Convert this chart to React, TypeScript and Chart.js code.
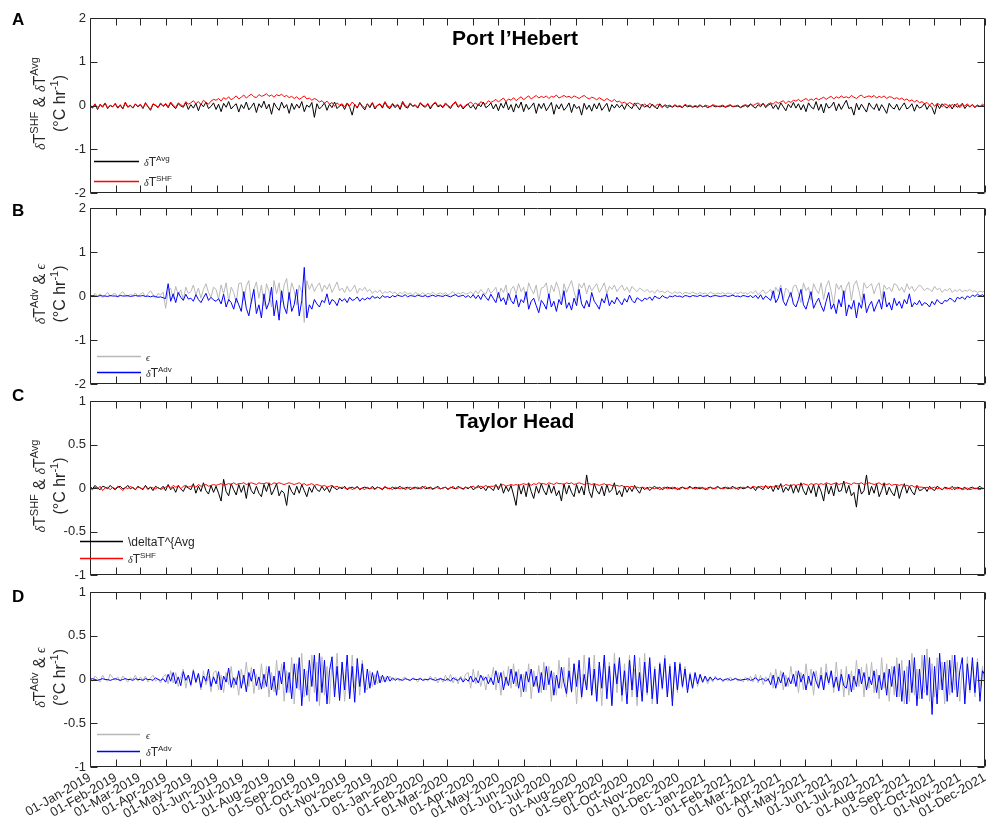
import React, { useEffect, useRef } from "react";
import { Chart, registerables } from "chart.js";
Chart.register(...registerables);

// ---------- data ----------
const STEP_DAYS = 3; // one value every 3 days, starting 01-Jan-2019 (10 values per row ≈ one month)
const tickLabels = [
  "01-Jan-2019","01-Feb-2019","01-Mar-2019","01-Apr-2019","01-May-2019","01-Jun-2019","01-Jul-2019","01-Aug-2019","01-Sep-2019","01-Oct-2019","01-Nov-2019","01-Dec-2019",
  "01-Jan-2020","01-Feb-2020","01-Mar-2020","01-Apr-2020","01-May-2020","01-Jun-2020","01-Jul-2020","01-Aug-2020","01-Sep-2020","01-Oct-2020","01-Nov-2020","01-Dec-2020",
  "01-Jan-2021","01-Feb-2021","01-Mar-2021","01-Apr-2021","01-May-2021","01-Jun-2021","01-Jul-2021","01-Aug-2021","01-Sep-2021","01-Oct-2021","01-Nov-2021","01-Dec-2021",
];

// values in hundredths of °C/hr
const shfA = [
  2,-5,4,-8,3,-2,6,-6,1,-3, 5,-4,2,-7,8,-3,1,-5,4,-2, 3,-6,7,-2,-9,4,1,-4,6,-1, 5,-3,8,1,-4,6,2,-2,9,3,
  6,11,4,9,2,12,7,3,10,14, 12,16,10,18,14,20,13,17,22,15, 19,24,17,22,26,20,18,25,21,23, 27,21,24,19,25,22,26,20,23,18,
  21,16,20,14,18,22,15,17,12,16, 13,8,11,5,10,3,7,-2,6,1, 4,-3,6,-1,8,2,-4,5,0,-6, 3,-2,7,-5,1,4,-3,9,-1,-4,
  5,-2,3,-6,10,0,-3,6,-1,2, -4,7,1,-2,5,-5,3,8,-1,2, -3,6,0,-4,4,9,-2,3,-5,1, 4,8,2,6,-1,9,5,3,11,7,
  10,14,8,13,17,9,15,12,18,11, 16,20,13,18,22,15,19,23,17,21, 18,22,16,21,19,24,17,20,23,19, 21,17,22,19,16,20,23,18,15,19,
  17,13,18,14,11,16,12,9,14,8, 10,5,8,2,7,4,-1,6,3,-2, 4,-3,5,1,-4,3,0,-5,2,-1, 1,-3,2,-2,0,-4,3,-1,1,-3,
  0,-2,2,-4,1,-1,-3,2,0,-2, -1,1,-3,0,2,-2,-1,1,-4,0, 2,-1,4,0,3,6,1,5,-2,4, 6,3,9,5,8,11,4,10,7,12,
  10,14,9,13,16,11,15,12,17,13, 16,19,14,18,21,15,20,17,22,18, 20,17,23,19,16,21,24,18,20,22, 19,23,17,21,18,22,16,20,19,15,
  18,14,17,12,15,10,13,8,12,6, 9,4,7,1,6,-2,5,2,-3,4, 1,-4,3,-2,5,-5,2,-1,4,-3, 2,-3,1,-2,3,-1,
];
const avgA = [
  -1,-6,3,-9,2,-4,5,-7,0,-3, 4,-6,1,-8,6,-4,0,-6,3,-3, 2,-7,5,-3,-11,3,0,-5,4,-2, 3,-5,6,-2,-7,4,-1,-4,7,-9,
  2,-6,5,-12,4,-3,8,-7,-2,6, -9,3,-14,5,-4,9,-8,-1,4,-15, 2,-7,8,-10,-3,6,-16,4,-5,10, -8,3,-20,6,-4,-11,8,-6,2,-18,
  5,-9,3,-6,9,-14,1,-4,7,-27, 4,-8,-2,6,-11,3,-5,8,-7,-1, 2,-9,5,-4,-22,3,-6,7,-3,-10, 4,-5,6,-8,0,3,-6,8,-4,-7,
  3,-5,1,-9,7,-3,-6,4,-2,0, -6,5,-1,-4,3,-8,2,6,-3,0, -5,4,-2,-7,3,7,-4,1,-8,-1, 3,-6,1,-9,4,-3,8,-5,-1,6,
  -8,3,-12,5,-6,9,-10,2,-15,4, -6,8,-14,3,-9,-2,6,-18,4,-7, 5,-12,-3,7,-20,2,-8,4,-11,-4, 6,-16,3,-7,-2,-22,5,-9,1,-13,
  4,-8,6,-11,-3,5,-14,2,-6,3, -5,2,-9,4,-3,-7,6,-2,-10,3, -4,1,-6,3,-2,-8,4,-3,0,-5, -1,-4,0,-3,-2,-5,1,-3,-1,-4,
  -2,-4,0,-3,-1,-5,-2,0,-3,-2, -3,-1,-4,-2,0,-3,-2,-1,-5,-2, 0,-4,3,-2,-6,2,-3,5,-5,1, 4,-7,2,-9,6,-3,-12,3,-5,7,
  -6,4,-10,2,-14,6,-3,-8,9,-11, 3,-17,5,-6,-2,8,-12,4,-9,2, 12,-7,-4,-22,5,-10,3,-6,-15,6, -3,-9,4,-12,2,-7,-18,5,-4,-8,
  3,-11,-2,6,-8,-4,4,-13,2,-6, -3,5,-9,1,-5,-20,3,-7,4,-2, -6,2,-8,3,-4,-1,5,-7,1,-3, 2,-5,1,-3,0,-4,
];

const advB = [
  0,1,0,-1,1,0,0,-1,1,0, 0,-1,1,0,0,1,-1,0,1,0, 0,1,-1,0,-2,0,-1,-3,-2,-4, -6,28,-12,5,-15,8,-3,-10,4,-7,
  -5,-12,3,-8,-15,-4,6,-10,-3,-9, -12,-6,-18,4,-25,-8,-15,-30,-5,-20, -35,10,-28,-45,-12,15,-40,-20,-50,5, -30,-15,20,-45,-10,-55,12,-25,-40,8,
  -35,-20,15,-45,-10,65,-50,-20,-30,-8, -18,-25,-10,-15,5,-20,-8,-12,-22,-5, -12,-6,-15,-3,-10,-8,-2,-12,-5,-9, -4,-7,0,-5,-2,-6,1,-3,-1,-4,
  1,-2,2,0,-1,3,-2,1,0,-1, 2,0,-1,1,-2,0,2,-1,1,0, -1,2,0,-2,1,3,-1,0,2,-3, 1,-4,3,-6,2,-8,5,-3,-10,4,
  -6,-15,8,-12,-4,-20,6,-10,-18,3, -25,-8,-15,10,-30,-12,-5,-22,-38,-10, -18,-30,5,-25,-12,-35,-8,-20,12,-28, -15,-32,-5,-22,15,-18,-28,-10,-25,8,
  -12,-20,-30,-6,-16,5,-22,-10,-18,-3, -12,-20,-6,-14,2,-10,-16,-4,-8,-12, -5,-8,-2,-10,0,-4,-6,1,-3,-5, 0,-2,1,-1,0,-3,1,0,-2,1,
  0,-1,2,-1,0,1,-2,0,1,0, -1,0,1,-1,0,2,-1,0,-2,1, 0,-2,1,-4,2,-6,3,-8,0,-5, -10,12,-15,-5,18,-12,-22,-6,8,-18,
  -25,-8,15,-20,-30,-10,10,-28,-15,-5, -22,-35,-12,8,-30,-18,-40,-8,-25,12, -45,-20,-30,-10,-50,-15,-28,5,-38,-22, -12,-35,-20,-8,-30,10,-25,-15,-32,-5,
  -22,-12,-28,-8,-18,5,-25,-15,-20,-10, -22,-15,-18,-25,-12,-20,-8,-15,-18,-10, -12,-5,-8,-14,-3,-6,-2,-8,0,-4, 2,-1,4,0,3,-2,
];
const epsB = [
  3,-2,6,0,5,-4,2,8,-1,4, 6,-3,5,10,2,-2,4,1,7,-1, 4,8,-2,5,12,3,-5,6,2,9, -28,12,18,-6,22,2,14,-9,20,6,
  10,25,2,18,-5,15,28,8,-3,20, 15,-8,25,5,30,-12,20,8,-15,28, 30,-10,22,35,-18,15,32,-5,25,-22, 28,10,-25,35,5,30,-15,25,40,-8,
  30,12,-20,25,8,-60,35,15,28,10, 22,30,10,25,15,28,8,20,32,12, 18,8,22,10,15,25,6,18,12,20, 10,15,6,12,8,14,5,10,7,11,
  6,9,3,8,5,10,4,7,2,8, 5,3,8,2,6,4,9,3,5,7, 4,8,2,6,10,3,7,5,9,4, 6,10,3,12,5,15,8,4,18,6,
  12,20,-5,18,8,25,-10,15,22,5, 28,10,20,-8,30,15,5,25,-12,18, 20,30,-5,25,10,32,15,-15,28,8, 22,35,10,-10,28,18,30,5,25,12,
  20,28,8,18,30,5,22,15,25,10, 18,25,12,20,8,22,15,10,18,14, 10,15,8,12,6,14,9,11,7,12, 8,5,10,6,9,4,8,7,5,9,
  6,4,8,5,7,3,9,6,4,7, 5,8,4,7,6,3,8,5,9,6, 7,4,10,6,12,3,9,14,5,10, 15,-5,20,10,25,-8,18,12,-3,22,
  25,8,-15,30,12,20,-10,28,15,5, 30,-8,22,35,10,-20,28,15,25,-5, 20,32,-10,25,35,12,-15,30,18,22, 28,5,22,30,-8,25,15,20,10,28,
  25,12,20,8,28,15,22,10,18,25, 20,12,18,15,10,22,14,18,8,15, 12,18,8,14,10,16,9,13,11,15, 10,12,8,11,9,12,
];

const shfC = [
  0,-2,1,-1,2,-3,0,1,-2,1, -1,2,0,-3,1,-1,2,0,-2,1, 0,-1,2,-2,1,0,-1,1,-2,0, 1,2,0,3,1,2,-1,2,3,1,
  2,3,1,4,2,3,4,2,3,4, 3,4,5,3,4,5,4,6,4,5, 5,6,4,5,6,5,4,6,5,5, 6,5,4,6,5,6,5,4,5,6,
  5,4,5,6,4,5,3,4,5,3, 4,3,2,3,1,2,3,1,2,0, 1,0,-1,1,-2,0,1,-1,0,-2, 1,-1,0,-2,1,0,-1,2,-1,0,
  -2,1,0,-1,1,-2,0,1,-1,0, 1,-1,0,2,-1,0,-2,1,0,-1, 0,1,-1,0,2,-1,0,1,-2,1, 0,1,2,0,1,2,1,3,1,2,
  2,3,1,3,4,2,3,4,3,4, 3,4,5,4,5,3,5,4,6,5, 5,4,6,5,4,6,5,5,4,6, 5,6,4,5,6,5,4,5,5,4,
  5,4,3,4,5,3,4,3,2,3, 2,3,1,2,1,2,0,1,0,1, 0,-1,1,0,-1,1,-2,0,1,-1, 0,1,-1,0,-2,1,0,-1,1,0,
  -1,0,1,-1,0,-2,1,0,-1,1, 0,-1,0,1,-1,0,1,-2,0,1, 0,1,0,2,1,0,2,1,2,1, 2,1,3,2,3,2,4,3,2,4,
  3,4,3,5,4,3,5,4,5,4, 5,4,6,5,4,5,6,4,5,5, 6,5,4,6,5,5,6,4,5,6, 5,4,5,6,4,5,4,5,3,4,
  4,3,4,2,3,2,3,1,2,1, 1,0,1,-1,0,1,-1,0,-2,0, -1,0,-2,1,-1,0,-2,-1,0,-2, -1,0,-1,-2,0,-1,
];
const avgC = [
  2,-1,3,0,-2,2,1,-1,3,0, -2,1,2,-1,0,3,-1,1,-2,2, 0,-2,3,-1,1,-3,2,0,-1,2, -3,4,-2,1,-5,3,-1,-4,2,0,
  -2,5,-6,2,-4,6,-3,-7,3,-5, 2,-6,-15,10,-4,-9,5,-2,-8,4, -5,3,-12,6,-3,-7,2,-6,-10,4, -4,6,-8,-2,5,-9,-3,-6,-20,3,
  -4,-8,2,-6,4,-3,-10,1,-5,3, -2,-4,2,-3,1,-5,2,0,-2,1, -1,2,-2,0,1,-1,2,-2,0,1, 0,-1,2,-1,1,0,-2,1,0,-1,
  1,-1,0,2,-1,0,1,-2,0,1, -1,0,2,-1,0,1,-1,0,2,-1, 0,1,-2,1,0,-1,2,0,-1,1, -1,2,-2,0,3,-1,1,-3,2,0,
  -3,4,-2,5,-6,2,-4,3,-8,-20, 4,-7,3,-10,6,-4,-12,2,-6,5, -3,-8,4,-6,2,-9,-3,-15,5,-7, 3,-5,-10,4,-6,2,-8,15,-4,-11,
  5,-3,-7,2,-9,4,-5,-2,6,-8, -3,-10,2,-5,1,-4,3,-2,-6,1, -2,1,-3,0,2,-1,1,-2,0,1, 0,-1,1,-2,0,1,-1,0,2,-1,
  1,0,-1,1,-2,0,1,-1,0,2, -1,0,1,-1,0,2,-1,0,1,-1, 0,2,-1,1,-3,2,0,-2,3,-1, 2,-4,3,-2,5,-5,1,-3,4,-6,
  3,-5,6,-3,-8,2,-6,4,-10,3, -4,-15,5,-7,2,-9,6,-4,-3,8, -6,3,-9,-5,-22,4,-7,-3,15,-8, 2,-6,5,-10,-3,6,-8,1,-5,-9,
  3,-12,-2,5,-6,2,-4,-8,3,-3, -2,1,-4,2,-1,-3,2,0,-2,1, 0,-1,2,-2,1,0,-1,1,-2,0, 1,-1,0,2,-1,0,
];

const advD = [
  0,1,0,-1,0,1,0,0,-1,0, 1,0,-1,0,1,0,0,-1,1,0, 0,-1,1,0,0,-1,2,0,-1,1, -3,6,-2,8,-5,3,-7,9,-1,5,
  -6,10,-3,7,-9,4,-2,12,-8,3, -5,9,-12,4,-3,13,-9,2,-6,10, -10,5,-14,8,-2,12,-7,3,-11,6, -8,15,-12,4,-18,10,-5,20,-15,8,
  -22,18,-10,25,-30,12,-18,22,-8,28, -25,30,-15,22,-28,10,26,-20,15,-24, 20,-12,28,-22,15,-26,24,-8,18,-15, 12,-10,8,-6,10,-4,5,-3,4,-2,
  2,-1,1,0,-1,1,0,-1,1,0, 0,1,-1,0,0,1,0,-1,0,1, 0,-1,1,-2,2,0,-1,2,-3,1, -2,4,-3,2,-4,5,-1,3,-5,2,
  -6,10,-4,8,-12,3,-7,12,-5,9, -10,6,-14,9,-3,12,-8,4,-15,8, -12,15,-6,10,-18,5,-10,14,-4,-16, 10,-14,18,-8,22,-20,6,-12,25,-18,
  12,-25,20,-10,28,-22,15,-30,18,-5, 25,-18,10,-28,22,-12,28,-20,8,-25, 20,-15,25,-22,12,-28,18,-10,24,-20, 15,-30,20,-12,18,-8,12,-15,6,-10,
  8,-5,6,-3,4,-2,3,-1,2,0, 1,-1,0,1,-1,0,1,0,-1,0, 0,1,-1,0,2,-1,0,1,-2,1, -6,5,-10,3,-4,8,-8,2,-5,6,
  -8,10,-3,6,-12,4,-7,9,-2,-10, 5,-12,8,-4,10,-9,3,-13,6,-7, -10,6,-14,4,-8,12,-5,8,-12,3, -6,10,-15,5,-12,8,-18,12,-8,15,
  -20,18,-25,10,-28,22,-15,25,-30,12, -22,28,-18,25,-40,15,-28,30,-12,20, -25,22,-15,28,-20,10,25,-28,18,-12, 25,-15,20,-25,10,5,
];
const epsD = [
  3,-2,4,1,-3,5,0,-2,6,2, -1,3,-2,4,1,-3,2,0,5,-2, 3,-1,4,-3,2,5,-2,1,-4,3, 6,-5,10,-4,8,-8,3,12,-10,5,
  -8,12,-4,6,-12,10,-6,4,-14,8, 10,-12,5,-15,8,-6,15,-10,3,-18, 12,-5,20,-8,14,-16,6,-12,18,-10, 15,-20,8,-14,22,-12,18,-25,10,-15,
  25,-28,18,-12,30,-20,10,-25,28,-15, 20,-30,26,-18,15,-28,22,-12,30,-22, 18,-25,12,-20,28,-10,15,-18,22,-8, -12,10,-8,6,-5,4,-3,3,-2,4,
  -1,2,0,-2,1,3,0,-1,2,1, -3,2,0,1,-2,4,-1,3,-4,2, -3,5,-2,6,-4,3,-5,4,-2,6, 8,-10,12,-5,10,-8,4,-12,6,-3,
  14,-12,8,-18,10,-6,15,-10,18,-8, 12,-20,6,-14,18,-22,10,-8,16,-15, 20,-12,15,-25,8,-18,22,-10,14,-20, 25,-15,18,-28,12,-22,28,-10,20,-18,
  28,-22,15,-30,25,-12,20,-28,30,-15, 22,-25,18,-12,28,-20,12,-30,25,-15, 30,-18,22,-28,15,-25,20,-12,28,-20, 18,-22,12,-15,20,-10,15,-12,8,-10,
  6,-8,5,-4,3,-5,2,-3,4,-1, 2,-3,1,-2,3,-1,2,-2,1,-3, 3,-2,4,-3,6,-4,5,-6,3,-2, 8,-10,12,-6,10,-12,5,-8,15,-5,
  10,-15,8,-12,18,-5,12,-18,10,-8, 14,-12,18,-6,10,-15,20,-10,12,-20, 15,-18,10,-12,22,-8,14,-20,18,-10, 20,-15,12,-22,25,-10,18,-25,15,-18,
  25,-20,22,-28,15,-25,30,-18,12,-22, 28,-15,35,-25,18,-20,25,-12,20,-28, 22,-18,28,-12,20,-25,15,-22,26,-15, 18,-20,24,-12,15,-10,
];

// ---------- helpers ----------
const FONT = 'Arial, "Liberation Sans", Helvetica, sans-serif';
const GREEK = '"Liberation Serif", "DejaVu Serif", serif';
const AXIS = "#262626";
const MON: Record<string, number> = { Jan: 0, Feb: 1, Mar: 2, Apr: 3, May: 4, Jun: 5, Jul: 6, Aug: 7, Sep: 8, Oct: 9, Nov: 10, Dec: 11 };
const T0 = Date.UTC(2019, 0, 1);
const dayOf = (lab: string) => {
  const [d, m, y] = lab.split("-");
  return (Date.UTC(+y, MON[m], +d) - T0) / 86400000;
};
const tickDays = tickLabels.map(dayOf);
const X_MAX = tickDays[tickDays.length - 1];
const toPoints = (vals: number[]) => vals.map((v, i) => ({ x: i * STEP_DAYS, y: v / 100 }));

type Seg = { t: string; k?: "sup" | "greek" };
const segFont = (s: Seg, size: number) =>
  s.k === "sup" ? `${Math.round(size * 0.68)}px ${FONT}` : s.k === "greek" ? `italic ${Math.round(size * 0.85)}px ${GREEK}` : `${size}px ${FONT}`;
function drawSegs(ctx: CanvasRenderingContext2D, segs: Seg[], x: number, y: number, size: number, align: "left" | "center") {
  ctx.textAlign = "left";
  ctx.textBaseline = "alphabetic";
  let w = 0;
  segs.forEach((s) => { ctx.font = segFont(s, size); w += ctx.measureText(s.t).width; });
  let cx = align === "center" ? x - w / 2 : x;
  segs.forEach((s) => {
    ctx.font = segFont(s, size);
    ctx.fillText(s.t, cx, s.k === "sup" ? y - size * 0.45 : y);
    cx += ctx.measureText(s.t).width;
  });
}
const dT = (sup: string): Seg[] => [{ t: "δ", k: "greek" }, { t: "T" }, { t: sup, k: "sup" }];
const unitsLine: Seg[] = [{ t: "(°C hr" }, { t: "-1", k: "sup" }, { t: ")" }];

const RED = "#ff0000", BLACK = "#000000", BLUE = "#0000ff", GRAY = "#b8b8b8";

const panels = [
  {
    key: "A", top: 0, height: 200, padTop: 18, xH: 7, yMin: -2, yMax: 2, yStep: 1, showX: false,
    title: "Port l’Hebert", letterY: 25,
    ylabel: [...dT("SHF"), { t: " & " }, ...dT("Avg")] as Seg[],
    series: [ { label: "SHF", values: shfA, color: RED }, { label: "Avg", values: avgA, color: BLACK } ],
    legend: { x0: 94, x1: 139, tx: 144, items: [ { y: 161, color: BLACK, segs: dT("Avg") }, { y: 181, color: RED, segs: dT("SHF") } ] },
  },
  {
    key: "B", top: 200, height: 190, padTop: 8, xH: 6, yMin: -2, yMax: 2, yStep: 1, showX: false,
    title: "", letterY: 216,
    ylabel: [...dT("Adv"), { t: " & " }, { t: "ϵ", k: "greek" }] as Seg[],
    series: [ { label: "Adv", values: advB, color: BLUE }, { label: "eps", values: epsB, color: GRAY } ],
    legend: { x0: 97, x1: 141, tx: 146, items: [ { y: 356, color: GRAY, segs: [{ t: "ϵ", k: "greek" }] as Seg[] }, { y: 372, color: BLUE, segs: dT("Adv") } ] },
  },
  {
    key: "C", top: 386, height: 199, padTop: 15, xH: 10, yMin: -1, yMax: 1, yStep: 0.5, showX: false,
    title: "Taylor Head", letterY: 401,
    ylabel: [...dT("SHF"), { t: " & " }, ...dT("Avg")] as Seg[],
    series: [ { label: "SHF", values: shfC, color: RED }, { label: "Avg", values: avgC, color: BLACK } ],
    legend: { x0: 80, x1: 123, tx: 128, items: [ { y: 541, color: BLACK, segs: [{ t: "\\deltaT^{Avg" }] as Seg[] }, { y: 558, color: RED, segs: dT("SHF") } ] },
  },
  {
    key: "D", top: 585, height: 242, padTop: 7, xH: 60, yMin: -1, yMax: 1, yStep: 0.5, showX: true,
    title: "", letterY: 602,
    ylabel: [...dT("Adv"), { t: " & " }, { t: "ϵ", k: "greek" }] as Seg[],
    series: [ { label: "Adv", values: advD, color: BLUE }, { label: "eps", values: epsD, color: GRAY } ],
    legend: { x0: 97, x1: 140, tx: 146, items: [ { y: 734, color: GRAY, segs: [{ t: "ϵ", k: "greek" }] as Seg[] }, { y: 751, color: BLUE, segs: dT("Adv") } ] },
  },
];

type P = (typeof panels)[number];

const decor = (p: P) => ({
  id: "decor" + p.key,
  afterDatasetsDraw(chart: any) {
    const ctx: CanvasRenderingContext2D = chart.ctx;
    const a = chart.chartArea;
    const L = Math.round(a.left) + 0.5, R = Math.round(a.right) - 0.5, T = Math.round(a.top) + 0.5, B = Math.round(a.bottom) - 0.5;
    const TL = 7;
    ctx.save();
    ctx.strokeStyle = AXIS;
    ctx.lineWidth = 1;
    ctx.beginPath();
    const xs = chart.scales.x, ys = chart.scales.y;
    xs.ticks.forEach((t: any) => {
      const px = Math.round(xs.getPixelForValue(t.value)) + 0.5;
      ctx.moveTo(px, B); ctx.lineTo(px, B - TL);
      ctx.moveTo(px, T); ctx.lineTo(px, T + TL);
    });
    ys.ticks.forEach((t: any) => {
      const py = Math.round(ys.getPixelForValue(t.value)) + 0.5;
      ctx.moveTo(L, py); ctx.lineTo(L + TL, py);
      ctx.moveTo(R, py); ctx.lineTo(R - TL, py);
    });
    ctx.rect(L, T, R - L, B - T);
    ctx.stroke();
    ctx.restore();
  },
  afterDraw(chart: any) {
    const ctx: CanvasRenderingContext2D = chart.ctx;
    const a = chart.chartArea;
    ctx.save();
    ctx.fillStyle = "#000";
    ctx.font = `bold 17px ${FONT}`;
    ctx.textAlign = "left";
    ctx.textBaseline = "alphabetic";
    ctx.fillText(p.key, 12, p.letterY - p.top);
    if (p.title) {
      ctx.font = `bold 21px ${FONT}`;
      ctx.textAlign = "center";
      ctx.fillText(p.title, 515, a.top + 27);
    }
    ctx.fillStyle = AXIS;
    const cy = (a.top + a.bottom) / 2 - 2;
    ctx.save();
    ctx.translate(45, cy);
    ctx.rotate(-Math.PI / 2);
    drawSegs(ctx, p.ylabel, 0, 0, 16, "center");
    ctx.restore();
    ctx.save();
    ctx.translate(65, cy);
    ctx.rotate(-Math.PI / 2);
    drawSegs(ctx, unitsLine, 0, 0, 16, "center");
    ctx.restore();
    const lg = p.legend;
    lg.items.forEach((it) => {
      const y = it.y - p.top;
      ctx.strokeStyle = it.color;
      ctx.lineWidth = 1.3;
      ctx.beginPath();
      ctx.moveTo(lg.x0, y + 0.5);
      ctx.lineTo(lg.x1, y + 0.5);
      ctx.stroke();
      ctx.fillStyle = AXIS;
      drawSegs(ctx, it.segs, lg.tx, y + 5, 12, "left");
    });
    ctx.restore();
  },
});

function Panel({ p }: { p: P }) {
  const ref = useRef<HTMLCanvasElement>(null);
  useEffect(() => {
    const chart = new Chart(ref.current as HTMLCanvasElement, {
      type: "line",
      data: {
        datasets: p.series.map((s) => ({
          label: s.label,
          data: toPoints(s.values),
          borderColor: s.color,
          borderWidth: 1,
          pointRadius: 0,
          tension: 0,
          fill: false,
        })),
      },
      options: {
        responsive: false,
        maintainAspectRatio: false,
        animation: false,
        events: [],
        layout: { padding: { top: p.padTop, right: 5, left: 0, bottom: 0 } },
        plugins: { legend: { display: false }, tooltip: { enabled: false }, title: { display: false } },
        scales: {
          x: {
            type: "linear",
            min: 0,
            max: X_MAX,
            grid: { display: false, drawTicks: false },
            border: { display: false },
            afterBuildTicks: (s: any) => { s.ticks = tickDays.map((v) => ({ value: v })); },
            ticks: {
              display: p.showX,
              autoSkip: false,
              minRotation: 30,
              maxRotation: 30,
              padding: 3,
              color: AXIS,
              font: { family: FONT, size: 13 },
              callback: (_v: any, i: number) => tickLabels[i],
            },
            afterFit: (s: any) => { s.height = p.xH; s.paddingLeft = 0; s.paddingRight = 0; },
          },
          y: {
            type: "linear",
            min: p.yMin,
            max: p.yMax,
            grid: { display: false, drawTicks: false },
            border: { display: false },
            ticks: {
              stepSize: p.yStep,
              padding: 4,
              color: AXIS,
              font: { family: FONT, size: 13 },
              callback: (v: any) => String(v),
            },
            afterFit: (s: any) => { s.width = 90; s.paddingTop = 0; s.paddingBottom = 0; },
          },
        },
      } as any,
      plugins: [decor(p)],
    });
    return () => chart.destroy();
  }, []);
  return (
    <canvas
      ref={ref}
      width={990}
      height={p.height}
      style={{ position: "absolute", left: 0, top: p.top, width: 990, height: p.height }}
    />
  );
}

export default function App() {
  return (
    <div style={{ position: "absolute", left: 0, top: 0, width: 990, height: 827, background: "#fff" }}>
      {panels.map((p) => (
        <Panel key={p.key} p={p} />
      ))}
    </div>
  );
}
